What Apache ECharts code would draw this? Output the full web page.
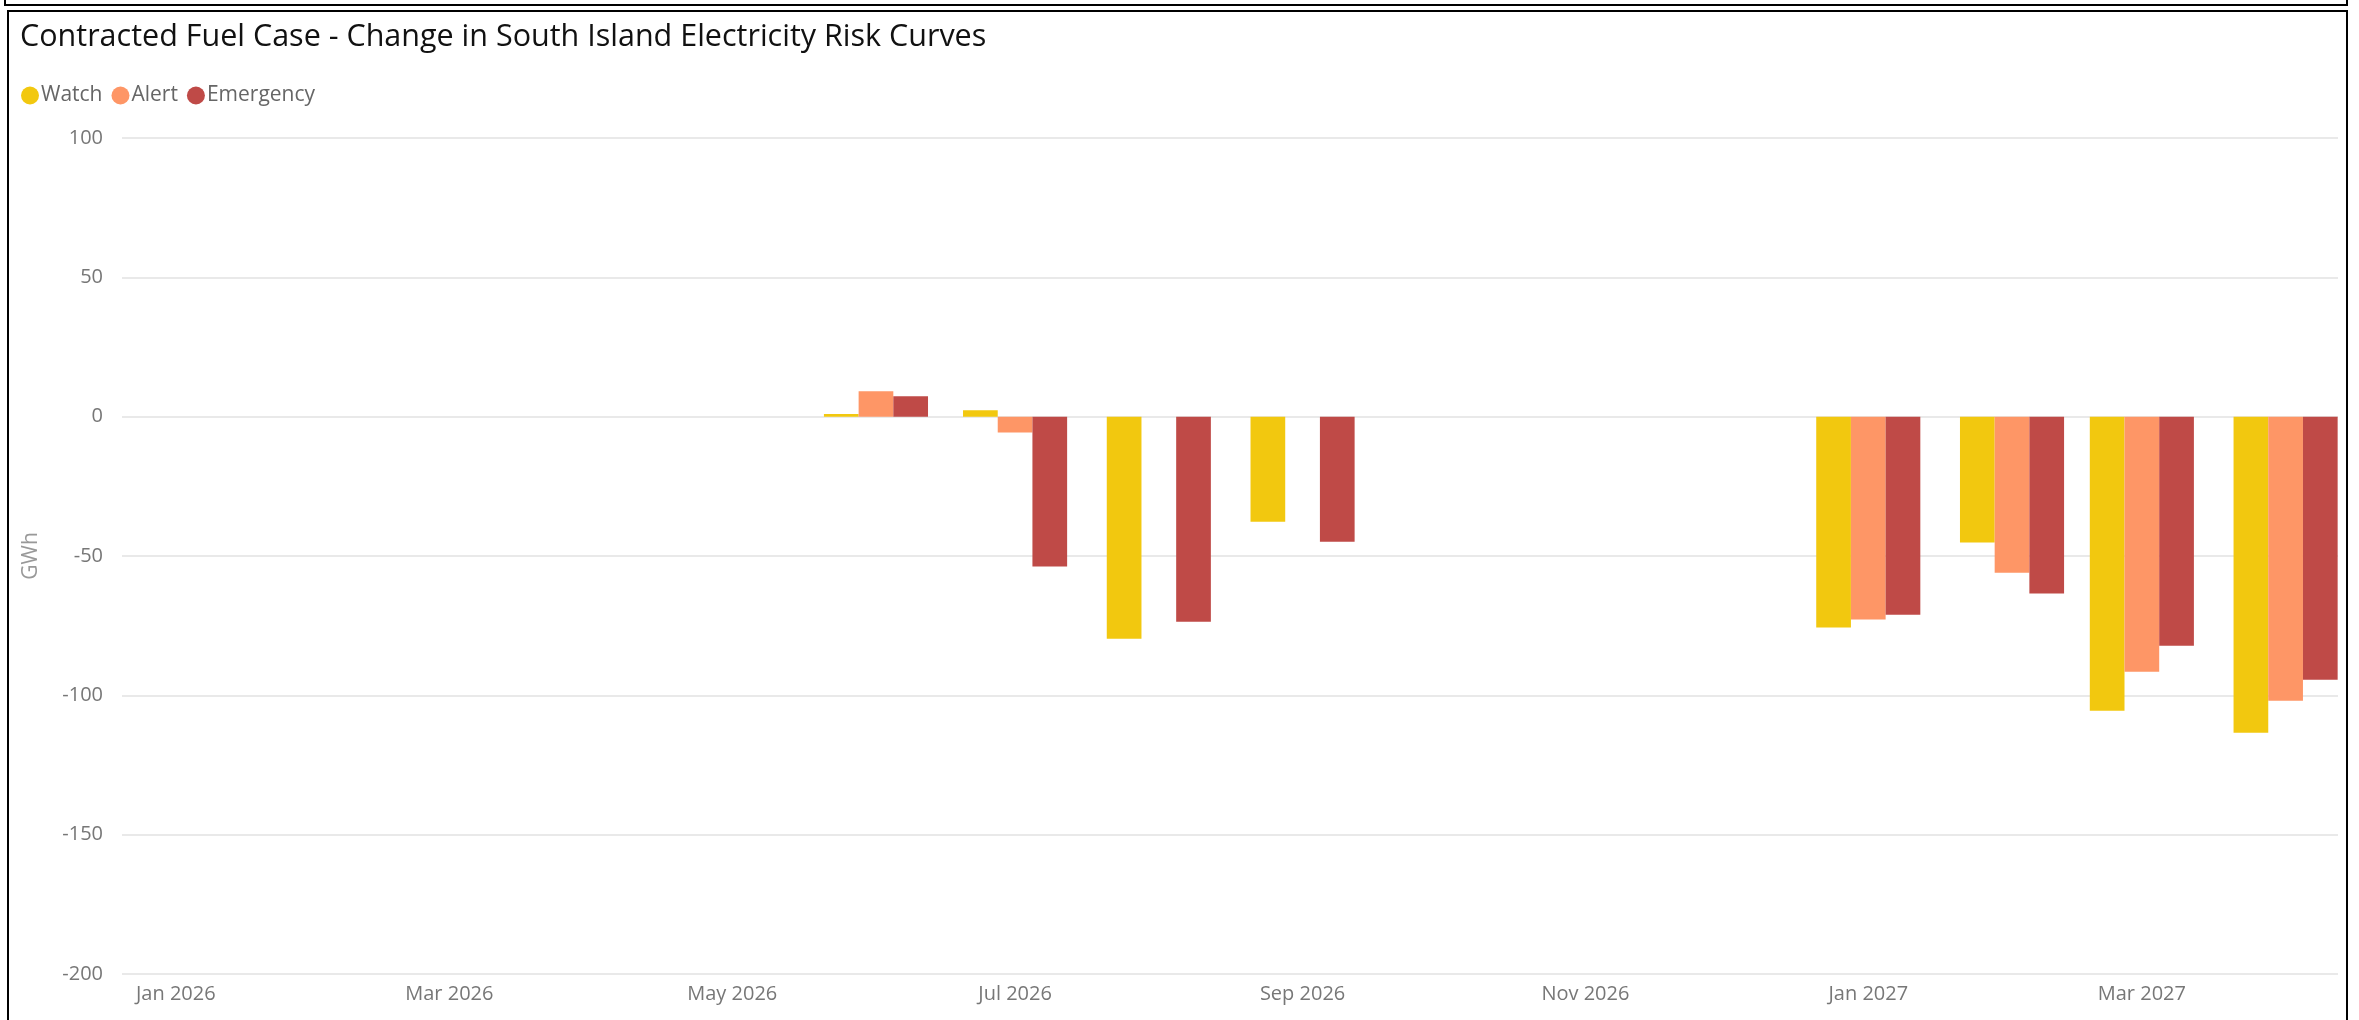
<!DOCTYPE html>
<html>
<head>
<meta charset="utf-8">
<title>Contracted Fuel Case - Change in South Island Electricity Risk Curves</title>
<script src="https://cdn.jsdelivr.net/npm/echarts@6/dist/echarts.min.js"></script>
<style>
  html, body { margin: 0; padding: 0; background: #fff; overflow: hidden; }
  #chart { position: absolute; left: 0; top: 0; width: 2359px; height: 1020px; }
  .box { position: absolute; border: 2px solid #000; pointer-events: none; }
  #topBox { left: 4px; top: -30px; width: 2340px; height: 32px; }
  #frame { left: 7px; top: 10px; width: 2337px; height: 1100px; }
</style>
</head>
<body>
<div id="chart"></div>
<div id="topBox" class="box"></div>
<div id="frame" class="box"></div>
<script>
// months on the x axis (first day of each month)
var months = ['2026-01', '2026-02', '2026-03', '2026-04', '2026-05', '2026-06', '2026-07', '2026-08',
  '2026-09', '2026-10', '2026-11', '2026-12', '2027-01', '2027-02', '2027-03', '2027-04']

// change in GWh per risk curve
var watch = [null, null, null, null, null, 1.0, 2.3, -79.7, -37.7, null, null, null, -75.7, -45.2, -105.5, -113.4]
var alert = [null, null, null, null, null, 9.1, -5.7, 0, 0, null, null, null, -72.8, -56.0, -91.5, -101.9]
var emergency = [null, null, null, null, null, 7.3, -53.8, -73.6, -44.9, null, null, null, -71.1, -63.5, -82.2, -94.4]

// labelled months
var tickMonths = ['2026-01', '2026-03', '2026-05', '2026-07', '2026-09', '2026-11', '2027-01', '2027-03']
var yTicks = [-200, -150, -100, -50, 0, 50, 100]

var monthNames = ['Jan', 'Feb', 'Mar', 'Apr', 'May', 'Jun', 'Jul', 'Aug', 'Sep', 'Oct', 'Nov', 'Dec']
var DAY = 24 * 3600 * 1000

function toTime(s) {
  var p = s.split('-')
  return new Date(+p[0], +p[1] - 1, 1).getTime()
}

function pairs(values) {
  return months.map(function (m, i) {
    return [toTime(m), values[i]]
  })
}

var font = '"Segoe UI", "Open Sans", "Noto Sans", sans-serif'
var chart = echarts.init(document.getElementById('chart'))

chart.setOption({
  animation: false,
  color: ['#F2C80F', '#FE9666', '#BF4A47'],
  title: {
    text: 'Contracted Fuel Case - Change in South Island Electricity Risk Curves',
    left: 15,
    top: 17,
    textStyle: { fontFamily: font, fontSize: 30.5, fontWeight: 'normal', color: '#111' }
  },
  legend: {
    left: 16,
    top: 80,
    icon: 'circle',
    itemWidth: 18,
    itemHeight: 18,
    itemGap: 9,
    textStyle: { fontFamily: font, fontSize: 21, color: '#666', padding: [0, 0, 0, -3] },
    data: ['Watch', 'Alert', 'Emergency']
  },
  grid: {
    left: 122,
    right: 21,
    top: 138,
    bottom: 46,
    containLabel: false
  },
  xAxis: {
    // timestamps on a plain value axis, labels only on the listed months
    type: 'value',
    min: toTime(months[0]) - 11.6 * DAY,
    max: toTime(months[0]) + 466.3 * DAY,
    axisLine: { show: false },
    axisTick: { show: false },
    splitLine: { show: false },
    axisLabel: {
      customValues: tickMonths.map(toTime),
      margin: 10,
      fontFamily: font,
      fontSize: 20,
      color: '#777',
      formatter: function (v) {
        var d = new Date(v)
        return monthNames[d.getMonth()] + ' ' + d.getFullYear()
      }
    }
  },
  yAxis: {
    type: 'value',
    min: yTicks[0],
    max: yTicks[yTicks.length - 1],
    interval: 50,
    name: 'GWh',
    nameLocation: 'middle',
    nameGap: 80,
    nameTextStyle: { fontFamily: font, fontSize: 21, color: '#999' },
    axisLine: { show: false },
    axisTick: { show: false },
    axisLabel: { margin: 19, fontFamily: font, fontSize: 20, color: '#777' },
    splitLine: { lineStyle: { color: '#e9e9e9', width: 2 } }
  },
  series: [
    { name: 'Watch', type: 'bar', barWidth: 34.7, barGap: '0%', data: pairs(watch) },
    { name: 'Alert', type: 'bar', barWidth: 34.7, barGap: '0%', data: pairs(alert) },
    { name: 'Emergency', type: 'bar', barWidth: 34.7, barGap: '0%', data: pairs(emergency) }
  ]
})
</script>
</body>
</html>
